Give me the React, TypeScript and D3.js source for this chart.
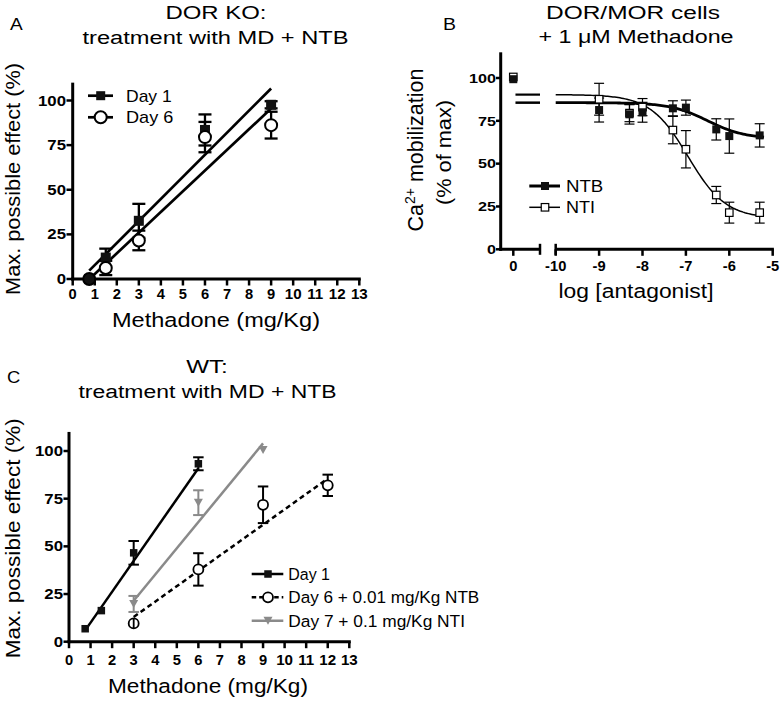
import React from 'react';
import * as d3 from 'd3';

const FONT = '"Liberation Sans", Arial, Helvetica, sans-serif';
const GRAY = '#8a8a8a';

// ---------- Panel A data ----------
const aDoses = [0.75, 1.5, 3, 6, 9];
const aDay1 = [0, 12, 32.6, 83.5, 97.6];
const aDay1Err = [0, 5, 9.5, 8.7, 2];
const aDay6 = [0, 6.2, 21.6, 79.5, 86.2];
const aDay6Err = [0, 4, 5.5, 8.5, 7.5];
const aFitSlope = [12.37, 11.59];
const aFitIntercept = [-4.6, -8.8];
const aLegend = ['Day 1', 'Day 6'];

const xTicks13 = [0, 1, 2, 3, 4, 5, 6, 7, 8, 9, 10, 11, 12, 13];
const yTicks = [0, 25, 50, 75, 100];

// ---------- Panel B data ----------
const bLogConc = [-9, -8.3, -8, -7.3, -7, -6.3, -6, -5.3];
const bNTB = [81.3, 78.8, 80, 82.3, 82.7, 70, 66.1, 66.5];
const bNTBErr = [7, 5.7, 5.8, 4.4, 4.4, 6.2, 10, 6.8];
const bNTI = [87.6, 79.5, 83, 69.6, 58.4, 31.7, 21.4, 21.4];
const bNTIErr = [9.3, 5, 5, 8, 10.9, 5, 6.1, 6.1];
const bControl = [99.3, 100.6]; // NTB, NTI at [antagonist] = 0
const bFitTop = [85.6, 90.3];
const bFitBottom = [64.5, 18];
const bFitLogIC50 = [-6.5, -6.95];
const bXTicksRight = [-10, -9, -8, -7, -6, -5];
const bXTicksLeft = [0];
const bLegend = ['NTB', 'NTI'];

// ---------- Panel C data ----------
const cDay1Doses = [0.75, 1.5, 3, 6];
const cDay1 = [6.8, 16.3, 46.6, 93.3];
const cDay1Err = [0, 0, 6.2, 3.4];
const cDay6Doses = [3, 6, 9, 12];
const cDay6 = [9.6, 37.9, 71.8, 82];
const cDay6Err = [2.6, 8.5, 9.6, 5.6];
const cDay7Doses = [3, 6, 9];
const cDay7 = [19.8, 72.9, 100.5];
const cDay7Err = [4.2, 6.5, 0];
const cFitSlope = [16.2, 8.06, 13.75];
const cFitIntercept = [-6.2, -11.2, -19.75];
const cLegend = ['Day 1', 'Day 6 + 0.01 mg/Kg NTB', 'Day 7 + 0.1 mg/Kg NTI'];

type TxtProps = {
  x: number; y: number; size: number; children: React.ReactNode;
  anchor?: string; weight?: string; len?: number; rotate?: boolean; sx?: number; fill?: string;
};
function Txt({ x, y, size, children, anchor = 'middle', weight = 'normal', len, rotate = false, sx = 1, fill = '#000' }: TxtProps) {
  let t = `translate(${x},${y})`;
  if (sx !== 1) t += ` scale(${sx},1)`;
  if (rotate) t += ' rotate(-90)';
  const extra: any = {};
  if (len) { extra.textLength = len; extra.lengthAdjust = 'spacingAndGlyphs'; }
  return (
    <text transform={t} fontSize={size} fontWeight={weight} textAnchor={anchor as any} fill={fill} fontFamily={FONT} {...extra}>
      {children}
    </text>
  );
}

function ErrBar({ x, yTop, yBot, cap, sw, color }: { x: number; yTop: number; yBot: number; cap: number; sw: number; color: string }) {
  return (
    <g stroke={color} strokeWidth={sw} fill="none">
      <line x1={x} x2={x} y1={yTop} y2={yBot} />
      {cap > 0 && <line x1={x - cap / 2} x2={x + cap / 2} y1={yTop} y2={yTop} />}
      {cap > 0 && <line x1={x - cap / 2} x2={x + cap / 2} y1={yBot} y2={yBot} />}
    </g>
  );
}

function Square({ x, y, s, fill, stroke = '#000', sw = 0 }: any) {
  return <rect x={x - s / 2} y={y - s / 2} width={s} height={s} fill={fill} stroke={stroke} strokeWidth={sw} />;
}

function TriDown({ x, y, w, h, fill }: any) {
  const p = `M${x - w / 2},${y - h / 2}L${x + w / 2},${y - h / 2}L${x},${y + h / 2}Z`;
  return <path d={p} fill={fill} />;
}

function PanelA() {
  const x = d3.scaleLinear().domain([0, 13]).range([72.7, 359.3]);
  const y = d3.scaleLinear().domain([0, 100]).range([279, 100.5]);
  const line = d3.line<[number, number]>().x(d => x(d[0])).y(d => y(d[1]));
  const fits = aFitSlope.map((s, i) => {
    const x0 = Math.max(aDoses[0], -aFitIntercept[i] / s);
    const x1 = aDoses[aDoses.length - 1];
    return line([[x0, s * x0 + aFitIntercept[i]], [x1, s * x1 + aFitIntercept[i]]]);
  });
  return (
    <g>
      <Txt x={10} y={30} size={16} anchor="start" len={12.7}>A</Txt>
      <Txt x={216} y={19} size={18} len={101}>DOR KO:</Txt>
      <Txt x={215.5} y={44} size={18} len={266}>treatment with MD + NTB</Txt>
      <Txt x={20} y={179} size={20} len={232} rotate>Max. possible effect (%)</Txt>
      <Txt x={216} y={327} size={20.5} len={208}>Methadone (mg/Kg)</Txt>
      {/* axes */}
      <line x1={x(0)} x2={x(0)} y1={y(110)} y2={y(0) + 1.5} stroke="#000" strokeWidth={3} />
      <line x1={x(0) - 1.5} x2={x(13) + 1.5} y1={y(0)} y2={y(0)} stroke="#000" strokeWidth={3} />
      {yTicks.map(t => (
        <g key={t}>
          <line x1={66.5} x2={x(0)} y1={y(t)} y2={y(t)} stroke="#000" strokeWidth={2.5} />
          <Txt x={66} y={y(t) + 5} size={14} weight="bold" anchor="end" sx={1.2}>{t}</Txt>
        </g>
      ))}
      {xTicks13.map(t => (
        <g key={t}>
          <line x1={x(t)} x2={x(t)} y1={y(0)} y2={y(0) + 6.5} stroke="#000" strokeWidth={2.5} />
          <Txt x={x(t)} y={298.5} size={14} weight="bold" sx={t >= 10 ? 1.08 : 1.05}>{t}</Txt>
        </g>
      ))}
      {/* fits */}
      {fits.map((d, i) => <path key={i} d={d || ''} stroke="#000" strokeWidth={2.7} fill="none" />)}
      {/* error bars */}
      {aDoses.map((d, i) => aDay1Err[i] > 0 && (
        <ErrBar key={'e1' + i} x={x(d)} yTop={y(aDay1[i] + aDay1Err[i])} yBot={y(aDay1[i] - aDay1Err[i])} cap={13} sw={2.3} color="#000" />
      ))}
      {aDoses.map((d, i) => aDay6Err[i] > 0 && (
        <ErrBar key={'e6' + i} x={x(d)} yTop={y(aDay6[i] + aDay6Err[i])} yBot={y(aDay6[i] - aDay6Err[i])} cap={13} sw={2.3} color="#000" />
      ))}
      {aDoses.map((d, i) => <Square key={'s' + i} x={x(d)} y={y(aDay1[i])} s={10} fill="#111" />)}
      {aDoses.map((d, i) => (
        <circle key={'c' + i} cx={x(d)} cy={y(aDay6[i])} r={6} fill={i === 0 ? '#111' : '#fff'} stroke="#000" strokeWidth={2} />
      ))}
      {/* legend */}
      {aLegend.map((lab, i) => {
        const ly = 95.7 + i * 21.6;
        return (
          <g key={lab}>
            <line x1={88} x2={113} y1={ly} y2={ly} stroke="#000" strokeWidth={2.7} />
            {i === 0 ? <Square x={100.7} y={ly} s={9} fill="#111" /> : <circle cx={100.7} cy={ly} r={6} fill="#fff" stroke="#000" strokeWidth={2} />}
            <Txt x={126} y={ly + 6} size={17} anchor="start" len={i === 0 ? 45.7 : 47.3}>{lab}</Txt>
          </g>
        );
      })}
    </g>
  );
}

function PanelB() {
  const xL = d3.scaleLinear().domain([-0.29, 0.615]).range([500.7, 540]);
  const xR = d3.scaleLinear().domain([-10, -5]).range([555.7, 772.7]);
  const y = d3.scaleLinear().domain([0, 100]).range([249.3, 78]);
  const sig = (i: number, v: number) => bFitBottom[i] + (bFitTop[i] - bFitBottom[i]) / (1 + Math.pow(10, v - bFitLogIC50[i]));
  const grid = d3.range(-10, -5.19, 0.04);
  const curves = [0, 1].map(i => d3.line<number>().x(v => xR(v)).y(v => y(sig(i, v)))(grid));
  const widths = [2.8, 1.5];
  return (
    <g>
      <Txt x={443} y={29.5} size={16} anchor="start" len={13}>B</Txt>
      <Txt x={633} y={19} size={18} len={174}>DOR/MOR cells</Txt>
      <Txt x={636} y={43} size={18} len={195}>+ 1 μM Methadone</Txt>
      <text transform={`translate(423,150) rotate(-90)`} fontSize={21.5} textAnchor="middle" fontFamily={FONT}>
        Ca<tspan dy={-8} fontSize={14}>2+</tspan><tspan dy={8}> mobilization</tspan>
      </text>
      <Txt x={451} y={152.5} size={20} len={105} rotate>(% of max)</Txt>
      <Txt x={636} y={298.3} size={20} len={155}>log [antagonist]</Txt>
      {/* axes */}
      <line x1={xL(-0.29)} x2={xL(-0.29)} y1={y(115)} y2={y(0) + 1.5} stroke="#000" strokeWidth={3} />
      <line x1={xL(-0.29) - 1.5} x2={xL(0.615)} y1={y(0)} y2={y(0)} stroke="#000" strokeWidth={3} />
      <line x1={xR(-10)} x2={xR(-5) + 1.2} y1={y(0)} y2={y(0)} stroke="#000" strokeWidth={3} />
      <line x1={xL(0.615)} x2={xL(0.615)} y1={y(0) - 5.5} y2={y(0) + 5.5} stroke="#000" strokeWidth={2.5} />
      <line x1={xR(-10)} x2={xR(-10)} y1={y(0) - 5.5} y2={y(0) + 5.5} stroke="#000" strokeWidth={2.5} />
      {yTicks.map(t => (
        <g key={t}>
          <line x1={496} x2={500.7} y1={y(t)} y2={y(t)} stroke="#000" strokeWidth={2.5} />
          <Txt x={496} y={y(t) + 4.8} size={13.5} weight="bold" anchor="end" sx={1.2}>{t}</Txt>
        </g>
      ))}
      {bXTicksLeft.map(t => (
        <g key={'l' + t}>
          <line x1={xL(t)} x2={xL(t)} y1={y(0)} y2={y(0) + 6.5} stroke="#000" strokeWidth={2.5} />
          <Txt x={xL(t)} y={270.5} size={14} weight="bold" sx={1.05}>{t}</Txt>
        </g>
      ))}
      {bXTicksRight.map(t => (
        <g key={'r' + t}>
          <line x1={xR(t)} x2={xR(t)} y1={y(0)} y2={y(0) + 6.5} stroke="#000" strokeWidth={2.5} />
          <Txt x={xR(t)} y={270.5} size={14} weight="bold" sx={1.05}>{t}</Txt>
        </g>
      ))}
      {/* curves */}
      {curves.map((d, i) => <path key={i} d={d || ''} stroke="#000" strokeWidth={widths[i]} fill="none" />)}
      {[0, 1].map(i => (
        <line key={'top' + i} x1={xL(0.05)} x2={xL(0.615)} y1={y(bFitTop[i])} y2={y(bFitTop[i])} stroke="#000" strokeWidth={i === 0 ? 2.5 : 2.2} />
      ))}
      {/* error bars */}
      {bLogConc.map((c, i) => (
        <ErrBar key={'ei' + i} x={xR(c)} yTop={y(bNTI[i] + bNTIErr[i])} yBot={y(bNTI[i] - bNTIErr[i])} cap={10} sw={1.2} color="#000" />
      ))}
      {bLogConc.map((c, i) => (
        <ErrBar key={'eb' + i} x={xR(c)} yTop={y(bNTB[i] + bNTBErr[i])} yBot={y(bNTB[i] - bNTBErr[i])} cap={10} sw={1.2} color="#000" />
      ))}
      {/* markers */}
      {bLogConc.map((c, i) => <Square key={'ni' + i} x={xR(c)} y={y(bNTI[i])} s={7.5} fill="#fff" sw={1.2} />)}
      {bLogConc.map((c, i) => <Square key={'nb' + i} x={xR(c)} y={y(bNTB[i])} s={8} fill="#111" />)}
      <Square x={xL(0)} y={y(bControl[1])} s={7.5} fill="#fff" sw={1.2} />
      <Square x={xL(0)} y={y(bControl[0])} s={8} fill="#111" />
      {/* legend */}
      {bLegend.map((lab, i) => {
        const ly = 186 + i * 21.3;
        return (
          <g key={lab}>
            <line x1={529.3} x2={560} y1={ly} y2={ly} stroke="#000" strokeWidth={i === 0 ? 3 : 1.5} />
            {i === 0 ? <Square x={545} y={ly} s={8} fill="#111" /> : <Square x={545} y={ly} s={7.5} fill="#fff" sw={1.2} />}
            <Txt x={566} y={ly + 5.8} size={16.5} anchor="start" len={i === 0 ? 37.3 : 29}>{lab}</Txt>
          </g>
        );
      })}
    </g>
  );
}

function PanelC() {
  const x = d3.scaleLinear().domain([0, 13]).range([69, 349.3]);
  const y = d3.scaleLinear().domain([0, 100]).range([641.7, 451]);
  const line = d3.line<[number, number]>().x(d => x(d[0])).y(d => y(d[1]));
  const doseSets = [cDay1Doses, cDay6Doses, cDay7Doses];
  const fits = cFitSlope.map((s, i) => {
    const ds = doseSets[i];
    const x0 = ds[0], x1 = ds[ds.length - 1];
    return line([[x0, s * x0 + cFitIntercept[i]], [x1, s * x1 + cFitIntercept[i]]]);
  });
  const colors = ['#000', '#000', GRAY];
  const dashes = [undefined, '5,3.5', undefined];
  const legendLens = [41.7, 191, 176.7];
  return (
    <g>
      <Txt x={7} y={383.3} size={16} anchor="start" len={13.3}>C</Txt>
      <Txt x={207} y={373.3} size={18} len={41.7}>WT:</Txt>
      <Txt x={207.5} y={398.3} size={18} len={258}>treatment with MD + NTB</Txt>
      <Txt x={20} y={538.3} size={20} len={240} rotate>Max. possible effect (%)</Txt>
      <Txt x={208} y={693} size={20.5} len={200}>Methadone (mg/Kg)</Txt>
      <line x1={x(0)} x2={x(0)} y1={y(110)} y2={y(0) + 1.5} stroke="#000" strokeWidth={3} />
      <line x1={x(0) - 1.5} x2={x(13) + 1.5} y1={y(0)} y2={y(0)} stroke="#000" strokeWidth={3} />
      {yTicks.map(t => (
        <g key={t}>
          <line x1={63.5} x2={x(0)} y1={y(t)} y2={y(t)} stroke="#000" strokeWidth={2.5} />
          <Txt x={63} y={y(t) + 5} size={14} weight="bold" anchor="end" sx={1.2}>{t}</Txt>
        </g>
      ))}
      {xTicks13.map(t => (
        <g key={t}>
          <line x1={x(t)} x2={x(t)} y1={y(0)} y2={y(0) + 6.5} stroke="#000" strokeWidth={2.5} />
          <Txt x={x(t)} y={665} size={14} weight="bold" sx={t >= 10 ? 1.08 : 1.05}>{t}</Txt>
        </g>
      ))}
      {fits.map((d, i) => (
        <path key={i} d={d || ''} stroke={colors[i]} strokeWidth={2.5} fill="none" strokeDasharray={dashes[i]} />
      ))}
      {cDay1Doses.map((d, i) => cDay1Err[i] > 0 && (
        <ErrBar key={'e1' + i} x={x(d)} yTop={y(cDay1[i] + cDay1Err[i])} yBot={y(cDay1[i] - cDay1Err[i])} cap={10.5} sw={2} color="#000" />
      ))}
      {cDay6Doses.map((d, i) => cDay6Err[i] > 0 && (
        <ErrBar key={'e6' + i} x={x(d)} yTop={y(cDay6[i] + cDay6Err[i])} yBot={y(cDay6[i] - cDay6Err[i])} cap={i === 0 ? 0 : 10.5} sw={2} color="#000" />
      ))}
      {cDay7Doses.map((d, i) => cDay7Err[i] > 0 && (
        <ErrBar key={'e7' + i} x={x(d)} yTop={y(cDay7[i] + cDay7Err[i])} yBot={y(cDay7[i] - cDay7Err[i])} cap={10.5} sw={2} color={GRAY} />
      ))}
      {cDay1Doses.map((d, i) => <Square key={'s' + i} x={x(d)} y={y(cDay1[i])} s={7.5} fill="#111" />)}
      {cDay6Doses.map((d, i) => (
        <circle key={'c' + i} cx={x(d)} cy={y(cDay6[i])} r={5} fill="#fff" stroke="#000" strokeWidth={1.8} />
      ))}
      {cDay6Doses.map((d, i) => i === 0 && (
        <line key={'cl' + i} x1={x(d)} x2={x(d)} y1={y(cDay6[i] + cDay6Err[i])} y2={y(cDay6[i] - cDay6Err[i])} stroke="#000" strokeWidth={1.8} />
      ))}
      {cDay7Doses.map((d, i) => <TriDown key={'t' + i} x={x(d)} y={y(cDay7[i])} w={9} h={8} fill={GRAY} />)}
      {cLegend.map((lab, i) => {
        const ly = 574 + i * 23.35;
        return (
          <g key={lab}>
            <line x1={251.7} x2={283.3} y1={ly} y2={ly} stroke={colors[i]} strokeWidth={2.5} strokeDasharray={dashes[i] ? '4.5,3' : undefined} />
            {i === 0 && <Square x={268} y={ly} s={7.5} fill="#111" />}
            {i === 1 && <circle cx={268} cy={ly} r={5} fill="#fff" stroke="#000" strokeWidth={1.8} />}
            {i === 2 && <TriDown x={268} y={ly} w={9} h={8} fill={GRAY} />}
            <Txt x={288.3} y={ly + 6} size={16.3} anchor="start" len={legendLens[i]}>{lab}</Txt>
          </g>
        );
      })}
    </g>
  );
}

export default function App() {
  return (
    <svg width={783} height={702} style={{ position: 'absolute', left: 0, top: 0, background: '#fff' }}>
      <rect width={783} height={702} fill="#fff" />
      <PanelA />
      <PanelB />
      <PanelC />
    </svg>
  );
}
